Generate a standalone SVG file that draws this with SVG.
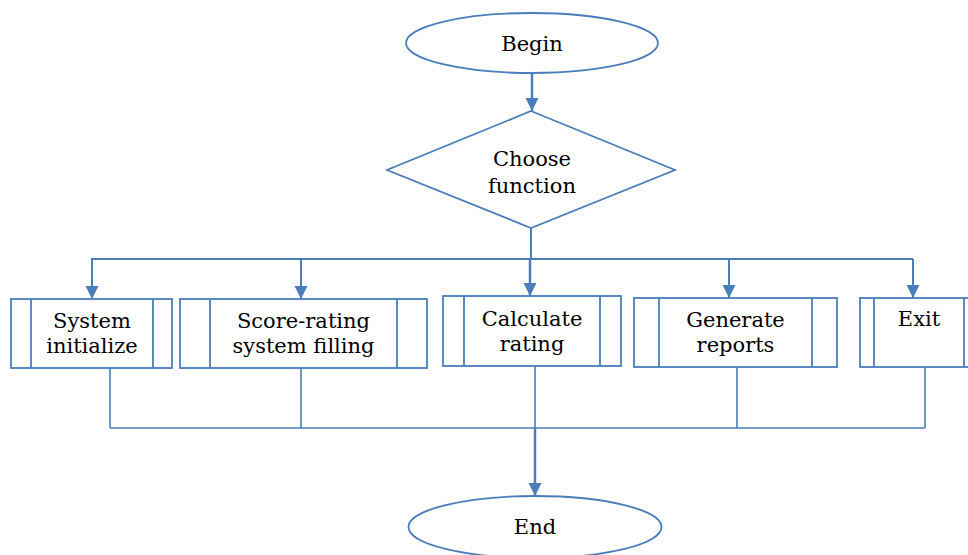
<svg xmlns="http://www.w3.org/2000/svg" width="968" height="555" viewBox="0 0 968 555">
<defs>
<marker id="ah" markerUnits="userSpaceOnUse" markerWidth="14" markerHeight="14" refX="13" refY="6.5" orient="auto">
<path d="M0,0 L13,6.5 L0,13 z" fill="#4a7ebb"/>
</marker>
</defs>
<style>
.sh{fill:#fff;stroke:#4a7ebb;stroke-width:1.8}
.in{stroke:#4a7ebb;stroke-width:1.8;fill:none}
.c{stroke:#4a7ebb;fill:none}
.a{stroke-width:2.5}
.t{stroke-width:2}
.b{stroke-width:1.6}
text{font-family:"DejaVu Serif","Noto Serif",serif;font-size:21px;fill:#000;text-anchor:middle}
</style>
<rect width="968" height="555" fill="#fff"/>
<g id="connectors">
<line class="c a" x1="532" y1="73" x2="532" y2="111" marker-end="url(#ah)"/>
<polyline class="c t" points="531,228 531,259"/>
<line class="c t" x1="91" y1="259" x2="913" y2="259"/>
<line class="c t" x1="92" y1="259" x2="92" y2="299" marker-end="url(#ah)"/>
<line class="c t" x1="301" y1="259" x2="301" y2="299" marker-end="url(#ah)"/>
<line class="c a" x1="530" y1="259" x2="530" y2="296" marker-end="url(#ah)"/>
<line class="c t" x1="729" y1="259" x2="729" y2="298" marker-end="url(#ah)"/>
<line class="c t" x1="913" y1="259" x2="913" y2="298" marker-end="url(#ah)"/>
<line class="c b" x1="110" y1="368" x2="110" y2="428"/>
<line class="c b" x1="301" y1="368" x2="301" y2="428"/>
<line class="c b" x1="535" y1="366" x2="535" y2="428"/>
<line class="c b" x1="737" y1="367" x2="737" y2="428"/>
<line class="c b" x1="925" y1="367" x2="925" y2="428"/>
<line class="c b" x1="110" y1="428" x2="925" y2="428"/>
<line class="c a" x1="535" y1="428" x2="535" y2="496" marker-end="url(#ah)"/>
</g>
<g id="begin">
<ellipse class="sh" cx="532" cy="43" rx="126" ry="30"/>
<text x="532" y="51">Begin</text>
</g>
<g id="choose">
<polygon class="sh" points="531,111 675,170 531,228 387,170"/>
<text x="532" y="166">Choose</text>
<text x="532" y="193">function</text>
</g>
<g id="sysinit">
<rect class="sh" x="11" y="299" width="161" height="69"/>
<line class="in" x1="31" y1="299" x2="31" y2="368"/>
<line class="in" x1="153" y1="299" x2="153" y2="368"/>
<text x="92" y="328">System</text>
<text x="92" y="353">initialize</text>
</g>
<g id="scorefill">
<rect class="sh" x="180" y="299" width="247" height="69"/>
<line class="in" x1="210" y1="299" x2="210" y2="368"/>
<line class="in" x1="397" y1="299" x2="397" y2="368"/>
<text x="303.5" y="328">Score-rating</text>
<text x="303.5" y="353">system filling</text>
</g>
<g id="calc">
<rect class="sh" x="443" y="296" width="178" height="70"/>
<line class="in" x1="464" y1="296" x2="464" y2="366"/>
<line class="in" x1="600" y1="296" x2="600" y2="366"/>
<text x="532" y="326">Calculate</text>
<text x="532" y="351">rating</text>
</g>
<g id="reports">
<rect class="sh" x="634" y="298" width="203" height="69"/>
<line class="in" x1="659" y1="298" x2="659" y2="367"/>
<line class="in" x1="812" y1="298" x2="812" y2="367"/>
<text x="735.5" y="327">Generate</text>
<text x="735.5" y="352">reports</text>
</g>
<g id="exit">
<rect class="sh" x="860" y="298" width="118" height="69"/>
<line class="in" x1="874" y1="298" x2="874" y2="367"/>
<line class="in" x1="964" y1="298" x2="964" y2="367"/>
<text x="919" y="326">Exit</text>
</g>
<g id="end">
<ellipse class="sh" cx="535" cy="527" rx="126.5" ry="31"/>
<text x="535" y="534">End</text>
</g>
</svg>
